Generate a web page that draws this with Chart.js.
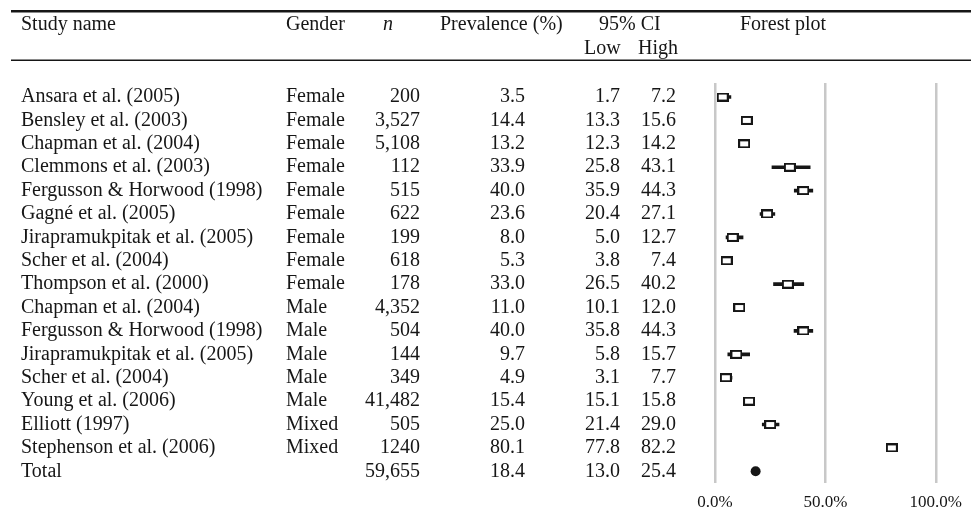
<!DOCTYPE html>
<html>
<head>
<meta charset="utf-8">
<script src="https://cdn.jsdelivr.net/npm/chart.js@4.4.0/dist/chart.umd.min.js"></script>
<style>
  html, body { margin: 0; padding: 0; background: #fff; }
  #wrap { width: 971px; height: 526px; }
</style>
</head>
<body>
<div id="wrap"><canvas id="forest" width="971" height="526"></canvas></div>
<script>
// ====== данные (последняя строка — Total) ======
const studies = [
  'Ansara et al. (2005)', 'Bensley et al. (2003)', 'Chapman et al. (2004)', 'Clemmons et al. (2003)',
  'Fergusson & Horwood (1998)', 'Gagné et al. (2005)', 'Jirapramukpitak et al. (2005)', 'Scher et al. (2004)',
  'Thompson et al. (2000)', 'Chapman et al. (2004)', 'Fergusson & Horwood (1998)', 'Jirapramukpitak et al. (2005)',
  'Scher et al. (2004)', 'Young et al. (2006)', 'Elliott (1997)', 'Stephenson et al. (2006)', 'Total'
];
const genders = [
  'Female', 'Female', 'Female', 'Female', 'Female', 'Female', 'Female', 'Female', 'Female',
  'Male', 'Male', 'Male', 'Male', 'Male', 'Mixed', 'Mixed', ''
];
const sampleSizes = [
  '200', '3,527', '5,108', '112', '515', '622', '199', '618', '178',
  '4,352', '504', '144', '349', '41,482', '505', '1240', '59,655'
];
const prevalence = [3.5, 14.4, 13.2, 33.9, 40.0, 23.6, 8.0, 5.3, 33.0, 11.0, 40.0, 9.7, 4.9, 15.4, 25.0, 80.1, 18.4];
const ciLow      = [1.7, 13.3, 12.3, 25.8, 35.9, 20.4, 5.0, 3.8, 26.5, 10.1, 35.8, 5.8, 3.1, 15.1, 21.4, 77.8, 13.0];
const ciHigh     = [7.2, 15.6, 14.2, 43.1, 44.3, 27.1, 12.7, 7.4, 40.2, 12.0, 44.3, 15.7, 7.7, 15.8, 29.0, 82.2, 25.4];
const xTicks = [0, 50, 100];

const TOTAL = studies.length - 1;
const INK = '#161616';
const SERIF = '"Liberation Serif", "Times New Roman", serif';

// открытый прямоугольник-маркер
function boxMarker() {
  const c = document.createElement('canvas');
  c.width = 12; c.height = 9;
  const g = c.getContext('2d');
  g.fillStyle = '#fff';
  g.fillRect(1, 1, 10, 7);
  g.strokeStyle = INK;
  g.lineWidth = 2;
  g.strokeRect(1, 1, 10, 7);
  return c;
}

// ---- таблица слева + шапка ----
const tablePlugin = {
  id: 'table',
  afterDraw(chart) {
    const ctx = chart.ctx;
    const ys = chart.scales.y;
    ctx.save();
    ctx.fillStyle = INK;
    ctx.fillRect(11, 10, 960, 2.5);
    ctx.fillRect(11, 59.5, 960, 1.5);

    ctx.font = `20px ${SERIF}`;
    ctx.textBaseline = 'middle';
    ctx.textAlign = 'left';
    ctx.fillText('Study name', 21, 25);
    ctx.fillText('Gender', 286, 25);
    ctx.fillText('Prevalence (%)', 440, 25);
    ctx.fillText('95% CI', 599, 25);
    ctx.fillText('Forest plot', 740, 25);
    ctx.fillText('Low', 584, 49);
    ctx.fillText('High', 638, 49);
    ctx.font = `italic 20px ${SERIF}`;
    ctx.fillText('n', 383, 25);

    ctx.font = `20px ${SERIF}`;
    studies.forEach((name, i) => {
      const y = ys.getPixelForValue(i);
      ctx.textAlign = 'left';
      ctx.fillText(name, 21, y);
      ctx.fillText(genders[i], 286, y);
      ctx.textAlign = 'right';
      ctx.fillText(sampleSizes[i], 420, y);
      ctx.fillText(prevalence[i].toFixed(1), 525, y);
      ctx.fillText(ciLow[i].toFixed(1), 620, y);
      ctx.fillText(ciHigh[i].toFixed(1), 676, y);
    });
    ctx.restore();
  }
};

const rows = studies.map((_, i) => i).filter(i => i !== TOTAL);

new Chart(document.getElementById('forest'), {
  type: 'scatter',
  data: {
    datasets: [
      {
        type: 'bar',
        indexAxis: 'y',
        data: rows.map(i => ({ x: [ciLow[i], ciHigh[i]], y: i })),
        backgroundColor: INK,
        borderWidth: 0,
        barThickness: 3,
        grouped: false,
        order: 3
      },
      {
        data: rows.map(i => ({ x: prevalence[i], y: i })),
        pointStyle: boxMarker(),
        pointRadius: 6,
        order: 2
      },
      {
        data: [{ x: prevalence[TOTAL], y: TOTAL }],
        pointStyle: 'circle',
        pointRadius: 5,
        backgroundColor: INK,
        borderColor: INK,
        borderWidth: 0,
        order: 1
      }
    ]
  },
  options: {
    responsive: false,
    animation: false,
    devicePixelRatio: 1,
    layout: { padding: { left: 715, right: 32, top: 83, bottom: 14 } },
    plugins: { legend: { display: false }, tooltip: { enabled: false } },
    scales: {
      x: {
        type: 'linear',
        min: 0,
        max: 100,
        afterBuildTicks: scale => { scale.ticks = xTicks.map(v => ({ value: v })); },
        afterFit: scale => { scale.height = 29; },
        border: { display: false },
        grid: { color: '#c8c8c8', lineWidth: 2.5, drawTicks: false, offset: false },
        ticks: {
          padding: 9,
          color: INK,
          font: { family: SERIF, size: 17 },
          callback: v => v.toFixed(1) + '%'
        }
      },
      y: {
        type: 'linear',
        min: -0.6,
        max: 16.5,
        offset: false,
        grid: { offset: false },
        reverse: true,
        display: false
      }
    }
  },
  plugins: [tablePlugin]
});
</script>
</body>
</html>
